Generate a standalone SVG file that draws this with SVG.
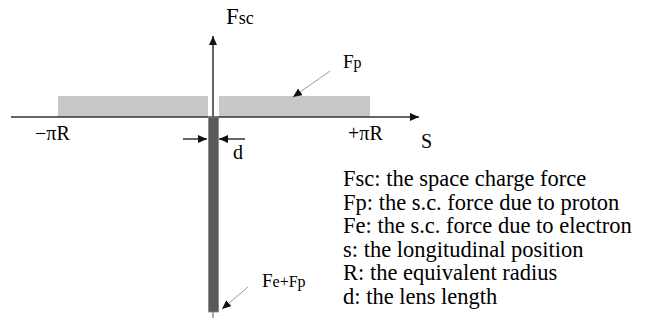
<svg xmlns="http://www.w3.org/2000/svg" width="654" height="327" viewBox="0 0 654 327" font-family="'Liberation Serif', 'Times New Roman', 'DejaVu Serif', serif">
<defs>
<style>
text{font-family:"Liberation Serif","Times New Roman","DejaVu Serif",serif;fill:#000}
.lbl{font-size:20px}
.leg{font-size:22.5px}
.axis{stroke:#333;stroke-width:1.5;fill:none}
.lead{stroke:#999;stroke-width:1;fill:none}
.dim{stroke:#000;stroke-width:1.2;fill:none}
</style>
<marker id="ah" markerWidth="10" markerHeight="8" refX="9" refY="4" orient="auto" markerUnits="userSpaceOnUse">
<path d="M0,0 L9,4 L0,8 Z" fill="#111"/>
</marker>
</defs>
<rect width="654" height="327" fill="#fff"/>
<g id="fp-bar-left"><rect x="58" y="96" width="150" height="21" fill="#c8c8c8"/></g>
<g id="fp-bar-right"><rect x="219" y="96" width="151" height="21" fill="#c8c8c8"/></g>
<g id="connectors">
<line class="axis" x1="11" y1="117" x2="419" y2="117" marker-end="url(#ah)"/>
<line class="axis" x1="213" y1="117" x2="213" y2="36" marker-end="url(#ah)"/>
<line class="dim" x1="183" y1="139" x2="207" y2="139" marker-end="url(#ah)"/>
<line class="dim" x1="245" y1="139" x2="219" y2="139" marker-end="url(#ah)"/>
<line class="lead" x1="330" y1="71" x2="293" y2="97" marker-end="url(#ah)"/>
<line class="lead" x1="248" y1="287" x2="222" y2="309" marker-end="url(#ah)"/>
<line stroke="#777" stroke-width="1.2" x1="213" y1="312" x2="213" y2="318"/>
</g>
<g id="fe-bar"><rect x="208.5" y="117" width="10" height="195" fill="#5a5a5a" stroke="#888" stroke-width="0.8"/></g>
<g id="label-fsc"><text x="226" y="24"><tspan font-size="23">F</tspan><tspan font-size="18">sc</tspan></text></g>
<g id="label-fp"><text x="343" y="68"><tspan font-size="19">F</tspan><tspan font-size="16">p</tspan></text></g>
<g id="label-fefp"><text x="262" y="287"><tspan font-size="19">F</tspan><tspan font-size="16">e+F</tspan><tspan font-size="16">p</tspan></text></g>
<g id="label-ticks">
<text class="lbl" x="35" y="140">−πR</text>
<text class="lbl" x="348" y="140">+πR</text>
<text class="lbl" x="421" y="148">S</text>
<text class="lbl" x="233" y="159">d</text>
</g>
<g id="legend">
<text class="leg" x="343" y="186">Fsc: the space charge force</text>
<text class="leg" x="343" y="209.5">Fp: the s.c. force due to proton</text>
<text class="leg" x="343" y="233">Fe: the s.c. force due to electron</text>
<text class="leg" x="343" y="256.5">s: the longitudinal position</text>
<text class="leg" x="343" y="280">R: the equivalent radius</text>
<text class="leg" x="343" y="303.5">d: the lens length</text>
</g>
</svg>
